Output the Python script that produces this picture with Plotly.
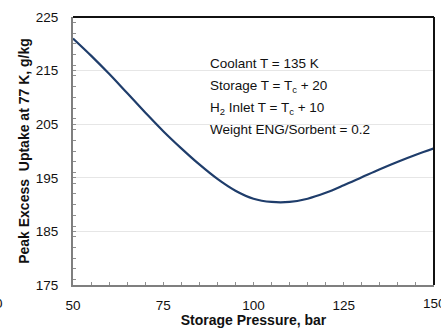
import plotly.graph_objects as go

pressure = [50, 55, 60, 65, 70, 75, 80, 85, 90, 95, 100, 105, 110, 115, 120, 125, 130, 135, 140, 145, 150]
uptake = [221.0, 217.8, 214.4, 210.8, 207.2, 203.7, 200.5, 197.5, 194.8, 192.6, 191.1, 190.5, 190.5, 191.1, 192.2, 193.6, 195.1, 196.6, 198.0, 199.3, 200.5]

x_ticks = [50, 75, 100, 125, 150]
y_ticks = [175, 185, 195, 205, 215, 225]

W, H = 441, 328
L, R, T, B = 73, 7, 17, 43

fig = go.Figure()
fig.add_trace(go.Scatter(x=pressure, y=uptake, mode="lines",
                         line=dict(color="#1f3d6b", width=2.2, shape="spline", smoothing=1.0),
                         showlegend=False, hoverinfo="skip"))

FS = 13.5
font = dict(family="Liberation Sans, Arial, sans-serif", size=FS, color="#111111")

fig.update_layout(
    width=W, height=H,
    margin=dict(l=L, r=R, t=T, b=B, autoexpand=False),
    paper_bgcolor="white", plot_bgcolor="white",
    font=font,
    xaxis=dict(range=[50, 150], tickvals=x_ticks[:-1], ticktext=[str(v) for v in x_ticks[:-1]],
               automargin=False,
               showgrid=False, zeroline=False,
               showline=True, linecolor="#7f7f7f", linewidth=2,
               ticks="inside", ticklen=3, tickcolor="#8f8f8f", tickwidth=1,
               ticklabelstandoff=7,
               minor=dict(dtick=5, ticks="inside", ticklen=3, tickcolor="#8f8f8f", showgrid=False),
               title=dict(text="<b>Storage Pressure, bar</b>", standoff=6, font=dict(size=14))),
    yaxis=dict(range=[175, 225], tickvals=y_ticks, ticktext=[str(v) for v in y_ticks],
               automargin=False,
               showgrid=True, gridcolor="#e6e6e6", gridwidth=1, zeroline=False,
               showline=True, linecolor="#7f7f7f", linewidth=2,
               ticks="inside", ticklen=3, tickcolor="#8f8f8f", tickwidth=1,
               ticklabelstandoff=10,
               minor=dict(dtick=2, ticks="inside", ticklen=3, tickcolor="#8f8f8f", showgrid=False),
               title=dict(text="<b>Peak Excess  Uptake at 77 K, g/kg</b>", standoff=3, font=dict(size=14))),
)

# top and right frame lines (black)
fig.add_shape(type="line", xref="paper", yref="paper", x0=0, x1=1, y0=1, y1=1,
              line=dict(color="#111111", width=2))
fig.add_shape(type="line", xref="paper", yref="paper", x0=1, x1=1, y0=0, y1=1,
              line=dict(color="#111111", width=2))

notes = ["Coolant T = 135 K",
         "Storage T = T<sub>c</sub> + 20",
         "H<sub>2</sub> Inlet T = T<sub>c</sub> + 10",
         "Weight ENG/Sorbent = 0.2"]
note_y = [216.3, 212.0, 207.9, 204.0]
for t, yv in zip(notes, note_y):
    fig.add_annotation(x=87.5, y=yv, xref="x", yref="y", text=t, showarrow=False,
                       xanchor="left", yanchor="middle", font=font)

# last x tick label (cut by the right edge, as in the reference)
fig.add_annotation(x=x_ticks[-1], y=-0.033, xref="x", yref="paper", text=str(x_ticks[-1]),
                   showarrow=False, xanchor="center", yanchor="top", font=font)

# partially visible neighbouring tick label at left edge
fig.add_annotation(x=-(L - 5) / (W - L - R), y=-0.033, xref="paper", yref="paper",
                   text="150", showarrow=False, xanchor="right", yanchor="top", font=font)

fig.write_html("out.html")
